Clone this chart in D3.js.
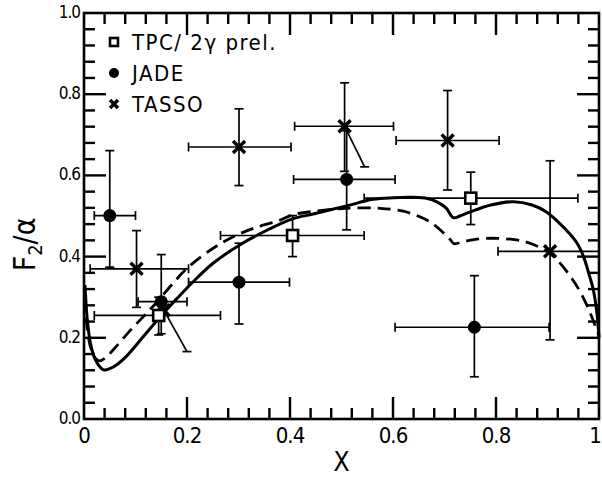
<!DOCTYPE html>
<html>
<head>
<meta charset="utf-8">
<script src="https://cdn.jsdelivr.net/npm/d3@7"></script>
<style>
  html, body { margin: 0; padding: 0; background: #fff; }
  svg { display: block; }
  text { font-family: "DejaVu Sans Condensed", "Liberation Sans Narrow", "DejaVu Sans", sans-serif; fill: #000; }
</style>
</head>
<body>
<svg id="chart" width="602" height="477"></svg>
<script>
// Axis ticks
const xMajor = [0, 0.2, 0.4, 0.6, 0.8, 1.0];
const xMajorLabels = ["0", "0.2", "0.4", "0.6", "0.8", "1"];
const yMajor = [0, 0.2, 0.4, 0.6, 0.8, 1.0];
const yMajorLabels = ["0.0", "0.2", "0.4", "0.6", "0.8", "1.0"];
const minorStep = 0.04;

// TPC/2gamma (preliminary) points
const tpcX   = [0.145, 0.405, 0.751];
const tpcY   = [0.255, 0.452, 0.544];
const tpcXlo = [0.020, 0.265, 0.544];
const tpcXhi = [0.265, 0.544, 0.959];
const tpcYlo = [0.207, 0.400, 0.479];
const tpcYhi = [0.300, 0.501, 0.608];

// JADE points
const jadeX   = [0.050, 0.150, 0.301, 0.510, 0.758];
const jadeY   = [0.501, 0.289, 0.337, 0.590, 0.226];
const jadeXlo = [0.020, 0.105, 0.203, 0.407, 0.604];
const jadeXhi = [0.100, 0.200, 0.399, 0.604, 0.903];
const jadeYlo = [0.374, 0.210, 0.234, 0.466, 0.104];
const jadeYhi = [0.661, 0.405, 0.433, 0.710, 0.353];

// TASSO points (null = no bar drawn)
const tassoX   = [0.102, 0.155, 0.301, 0.506, 0.706, 0.905];
const tassoY   = [0.370, 0.268, 0.670, 0.721, 0.686, 0.413];
const tassoXlo = [0.012, null, 0.203, 0.409, 0.606, 0.804];
const tassoXhi = [0.203, null, 0.402, 0.601, 0.806, 1.000];
const tassoYlo = [0.275, null, 0.575, 0.610, 0.564, 0.195];
const tassoYhi = [0.464, null, 0.764, 0.828, 0.809, 0.636];
// slanted tails from two TASSO points
const tailFrom  = [1, 3];
const tailEndX  = [0.200, 0.545];
const tailEndY  = [0.166, 0.621];

// Model curves
const solidX = [0.002, 0.006, 0.012, 0.020, 0.028, 0.038, 0.050, 0.065, 0.085, 0.110, 0.148, 0.180, 0.212, 0.250, 0.303, 0.360, 0.405, 0.445, 0.510, 0.561, 0.600, 0.639, 0.667, 0.685, 0.703, 0.717, 0.730, 0.750, 0.790, 0.834, 0.870, 0.898, 0.921, 0.944, 0.959, 0.970, 0.981, 0.989, 0.996, 1.000];
const solidY = [0.330, 0.250, 0.190, 0.152, 0.133, 0.121, 0.124, 0.135, 0.158, 0.195, 0.252, 0.296, 0.338, 0.383, 0.429, 0.468, 0.493, 0.505, 0.525, 0.541, 0.545, 0.546, 0.543, 0.535, 0.520, 0.496, 0.500, 0.510, 0.527, 0.535, 0.527, 0.510, 0.485, 0.455, 0.430, 0.400, 0.355, 0.318, 0.260, 0.200];
const dashX = [0.004, 0.008, 0.014, 0.022, 0.030, 0.041, 0.060, 0.089, 0.115, 0.141, 0.170, 0.200, 0.250, 0.290, 0.330, 0.381, 0.405, 0.450, 0.510, 0.575, 0.620, 0.652, 0.675, 0.695, 0.711, 0.718, 0.740, 0.782, 0.840, 0.870, 0.898, 0.920, 0.944, 0.965, 0.983, 1.000];
const dashY = [0.250, 0.205, 0.172, 0.150, 0.143, 0.150, 0.175, 0.217, 0.252, 0.287, 0.330, 0.371, 0.420, 0.449, 0.470, 0.490, 0.503, 0.512, 0.519, 0.519, 0.512, 0.498, 0.483, 0.462, 0.442, 0.432, 0.438, 0.445, 0.441, 0.431, 0.414, 0.390, 0.352, 0.310, 0.261, 0.205];

// Legend
const legendLabels = ["TPC/ 2\u03b3 prel.", "JADE", "TASSO"];
const legendKinds = ["square", "circle", "cross"];

const svg = d3.select("#chart");
const x = d3.scaleLinear().domain([0, 1]).range([84, 599]);
const y = d3.scaleLinear().domain([0, 1]).range([419, 13]);

// frame
svg.append("rect")
  .attr("x", x(0)).attr("y", y(1))
  .attr("width", x(1) - x(0)).attr("height", y(0) - y(1))
  .attr("fill", "none").attr("stroke", "#000").attr("stroke-width", 2.6);

// ---- inward ticks on all four sides (filled bars) ----
const tickG = svg.append("g").attr("fill", "#000");
for (let i = 1; i < 25; i++) {
  const v = i * minorStep;
  const L = (i % 5 === 0) ? 22 : 11;
  const w = 2.4;
  tickG.append("rect").attr("x", x(v) - w / 2).attr("y", y(0) - L).attr("width", w).attr("height", L);
  tickG.append("rect").attr("x", x(v) - w / 2).attr("y", y(1)).attr("width", w).attr("height", L);
  tickG.append("rect").attr("x", x(0)).attr("y", y(v) - w / 2).attr("width", L).attr("height", w);
  tickG.append("rect").attr("x", x(1) - L).attr("y", y(v) - w / 2).attr("width", L).attr("height", w);
}

// tick labels
svg.append("g").selectAll("text").data(xMajor).join("text")
  .attr("x", (d, i) => x(d) - (i === xMajor.length - 1 ? 4 : 0))
  .attr("y", 443).attr("text-anchor", "middle").attr("font-size", 22)
  .attr("letter-spacing", "-1px")
  .text((d, i) => xMajorLabels[i]);
svg.append("g").selectAll("text").data(yMajor).join("text")
  .attr("x", x(0) - 4).attr("y", d => y(d) + 5)
  .attr("text-anchor", "end").attr("font-size", 17).attr("letter-spacing", "-1px")
  .text((d, i) => yMajorLabels[i]);

// axis titles
svg.append("text").attr("x", x(0.5)).attr("y", 471)
  .attr("text-anchor", "middle").attr("font-size", 26).text("X");
const yl = svg.append("text")
  .attr("transform", `translate(35,${y(0.43)}) rotate(-90)`)
  .attr("text-anchor", "middle").attr("font-size", 30)
  .attr("font-family", "DejaVu Sans, sans-serif");
yl.append("tspan").text("F");
yl.append("tspan").attr("font-size", 20).attr("dy", 7).text("2");
yl.append("tspan").attr("dy", -7).text("/\u03b1");

// ---- curves ----
const line = d3.line().x(d => x(d[0])).y(d => y(d[1])).curve(d3.curveCatmullRom.alpha(0.5));
const plot = svg.append("g");
plot.append("path").datum(dashX.map((v, i) => [v, dashY[i]]))
  .attr("d", line).attr("fill", "none").attr("stroke", "#000")
  .attr("stroke-width", 2.8).attr("stroke-dasharray", "13,7");
plot.append("path").datum(solidX.map((v, i) => [v, solidY[i]]))
  .attr("d", line).attr("fill", "none").attr("stroke", "#000")
  .attr("stroke-width", 3);

// ---- error bars ----
const cap = 4.5;
function errorBars(xs, ys, xlo, xhi, ylo, yhi) {
  const g = plot.append("g").attr("stroke", "#000").attr("stroke-width", 1.7).attr("fill", "none");
  xs.forEach((xv, i) => {
    if (xlo[i] != null) {
      g.append("line").attr("x1", x(xlo[i])).attr("x2", x(xhi[i])).attr("y1", y(ys[i])).attr("y2", y(ys[i]));
      [xlo[i], xhi[i]].forEach(e => {
        if (e > 0 && e < 1) g.append("line").attr("x1", x(e)).attr("x2", x(e))
          .attr("y1", y(ys[i]) - cap).attr("y2", y(ys[i]) + cap);
      });
    }
    if (ylo[i] != null) {
      g.append("line").attr("x1", x(xv)).attr("x2", x(xv)).attr("y1", y(ylo[i])).attr("y2", y(yhi[i]));
      [ylo[i], yhi[i]].forEach(e => g.append("line").attr("x1", x(xv) - cap).attr("x2", x(xv) + cap)
        .attr("y1", y(e)).attr("y2", y(e)));
    }
  });
}
errorBars(tpcX, tpcY, tpcXlo, tpcXhi, tpcYlo, tpcYhi);
errorBars(jadeX, jadeY, jadeXlo, jadeXhi, jadeYlo, jadeYhi);
errorBars(tassoX, tassoY, tassoXlo, tassoXhi, tassoYlo, tassoYhi);

// slanted tails
const tails = plot.append("g").attr("stroke", "#000").attr("stroke-width", 1.7);
tailFrom.forEach((idx, k) => {
  tails.append("line").attr("x1", x(tassoX[idx])).attr("y1", y(tassoY[idx]))
    .attr("x2", x(tailEndX[k])).attr("y2", y(tailEndY[k]));
  tails.append("line").attr("x1", x(tailEndX[k]) - cap).attr("x2", x(tailEndX[k]) + cap)
    .attr("y1", y(tailEndY[k])).attr("y2", y(tailEndY[k]));
});

// ---- markers ----
function drawMarker(g, kind, cx, cy, s) {
  if (kind === "square") {
    g.append("rect").attr("x", cx - s).attr("y", cy - s).attr("width", 2 * s).attr("height", 2 * s)
      .attr("fill", "#fff").attr("stroke", "#000").attr("stroke-width", 2.6);
  } else if (kind === "circle") {
    g.append("circle").attr("cx", cx).attr("cy", cy).attr("r", s).attr("fill", "#000");
  } else {
    g.append("path").attr("d", `M${cx - s},${cy - s}L${cx + s},${cy + s}M${cx - s},${cy + s}L${cx + s},${cy - s}`)
      .attr("stroke", "#000").attr("stroke-width", 3.4);
  }
}
const marks = plot.append("g");
tassoX.forEach((v, i) => drawMarker(marks, "cross", x(v), y(tassoY[i]), 6));
jadeX.forEach((v, i) => drawMarker(marks, "circle", x(v), y(jadeY[i]), 6.5));
tpcX.forEach((v, i) => drawMarker(marks, "square", x(v), y(tpcY[i]), 5.5));

// ---- legend ----
const leg = svg.append("g");
legendLabels.forEach((t, i) => {
  const cy = 42 + i * 31;
  drawMarker(leg, legendKinds[i], 114, cy, legendKinds[i] === "circle" ? 5 : 4);
  leg.append("text").attr("x", 132).attr("y", cy + 8).attr("font-size", 22)
    .attr("letter-spacing", "1.5px").text(t);
});
</script>
</body>
</html>
